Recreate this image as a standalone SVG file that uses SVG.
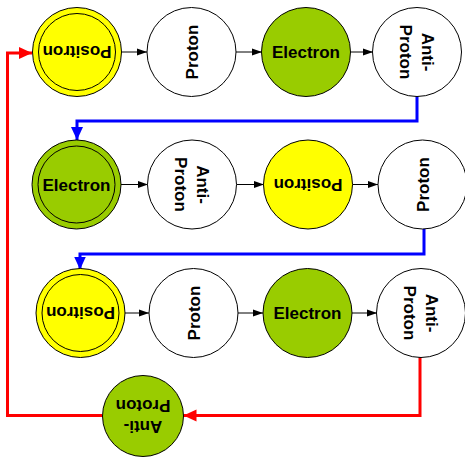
<svg xmlns="http://www.w3.org/2000/svg" width="465" height="457" viewBox="0 0 465 457">
<style>
.n{stroke:#000;stroke-width:1}
.w{fill:#fff}.y{fill:#ffff00}.g{fill:#99cc00}
.in{fill:none;stroke:#000;stroke-width:1}
text{font-family:"Liberation Sans",Arial,sans-serif;font-weight:bold;font-size:17px;text-anchor:middle;fill:#000}
.k{stroke:#000;stroke-width:1;fill:none}
.b{stroke:#0000ff;stroke-width:3;fill:none}
.r{stroke:#ff0000;stroke-width:3;fill:none}
</style>
<defs>
<marker id="ak" markerUnits="userSpaceOnUse" markerWidth="10" markerHeight="10" viewBox="0 0 10 10" refX="10" refY="5" orient="auto"><path d="M0,1.5 L10,5 L0,8.5 Z" fill="#000"/></marker>
<marker id="ab" markerUnits="userSpaceOnUse" markerWidth="14" markerHeight="14" viewBox="0 0 14 14" refX="13" refY="7" orient="auto"><path d="M0,1 L13,7 L0,13 Z" fill="#0000ff"/></marker>
<marker id="ar" markerUnits="userSpaceOnUse" markerWidth="14" markerHeight="14" viewBox="0 0 14 14" refX="13" refY="7" orient="auto"><path d="M0,1 L13,7 L0,13 Z" fill="#ff0000"/></marker>
</defs>
<g id="connectors">
<path class="k" d="M121.5,52 H147" marker-end="url(#ak)"/>
<path class="k" d="M236,52 H262" marker-end="url(#ak)"/>
<path class="k" d="M350,52 H373" marker-end="url(#ak)"/>
<path class="k" d="M121,184.5 H148" marker-end="url(#ak)"/>
<path class="k" d="M236.5,184.5 H264" marker-end="url(#ak)"/>
<path class="k" d="M352.5,184.5 H378" marker-end="url(#ak)"/>
<path class="k" d="M125,313 H149" marker-end="url(#ak)"/>
<path class="k" d="M238,313 H263" marker-end="url(#ak)"/>
<path class="k" d="M352,313 H377" marker-end="url(#ak)"/>
<path class="b" d="M417,96 V121 H77 V140" marker-end="url(#ab)"/>
<path class="b" d="M424,229 V254 H80 V269.5" marker-end="url(#ab)"/>
<path class="r" d="M420,357 V415.5 H183.5" marker-end="url(#ar)"/>
<path class="r" d="M102,415.5 H7.5 V53 H32" marker-end="url(#ar)"/>
</g>
<g id="n1"><circle class="n y" cx="77" cy="52" r="44.5"/><circle class="in" cx="77" cy="52" r="38.5"/><text transform="translate(77,52) rotate(180)" y="6">Positron</text></g>
<g id="n2"><circle class="n w" cx="191.5" cy="52" r="44.5"/><text transform="translate(191.5,52) rotate(-90)" y="6">Proton</text></g>
<g id="n3"><circle class="n g" cx="306" cy="52" r="44.5"/><text x="306" y="58">Electron</text></g>
<g id="n4"><circle class="n w" cx="417" cy="52" r="44.5"/><text transform="translate(417,52) rotate(90)"><tspan x="0" y="-5">Anti-</tspan><tspan x="0" y="17">Proton</tspan></text></g>
<g id="n5"><circle class="n g" cx="76.5" cy="184.5" r="44.5"/><circle class="in" cx="76.5" cy="184.5" r="38.5"/><text x="76.5" y="190.5">Electron</text></g>
<g id="n6"><circle class="n w" cx="192" cy="184.5" r="44.5"/><text transform="translate(192,184.5) rotate(90)"><tspan x="0" y="-5">Anti-</tspan><tspan x="0" y="17">Proton</tspan></text></g>
<g id="n7"><circle class="n y" cx="308" cy="184.5" r="44.5"/><text transform="translate(308,184.5) rotate(180)" y="6">Positron</text></g>
<g id="n8"><circle class="n w" cx="422.5" cy="184.5" r="44.5"/><text transform="translate(422.5,184.5) rotate(-90)" y="6">Proton</text></g>
<g id="n9"><circle class="n y" cx="80.5" cy="313" r="44.5"/><circle class="in" cx="80.5" cy="313" r="38.5"/><text transform="translate(80.5,313) rotate(180)" y="6">Positron</text></g>
<g id="n10"><circle class="n w" cx="193.5" cy="313" r="44.5"/><text transform="translate(193.5,313) rotate(-90)" y="6">Proton</text></g>
<g id="n11"><circle class="n g" cx="307.5" cy="313" r="44.5"/><text x="307.5" y="319">Electron</text></g>
<g id="n12"><circle class="n w" cx="421" cy="313" r="44.5"/><text transform="translate(421,313) rotate(90)"><tspan x="0" y="-5">Anti-</tspan><tspan x="0" y="17">Proton</tspan></text></g>
<g id="n13"><circle class="n g" cx="143" cy="416" r="40.5"/><text transform="translate(143,416) rotate(180)"><tspan x="0" y="-5">Anti-</tspan><tspan x="0" y="16">Proton</tspan></text></g>
</svg>
